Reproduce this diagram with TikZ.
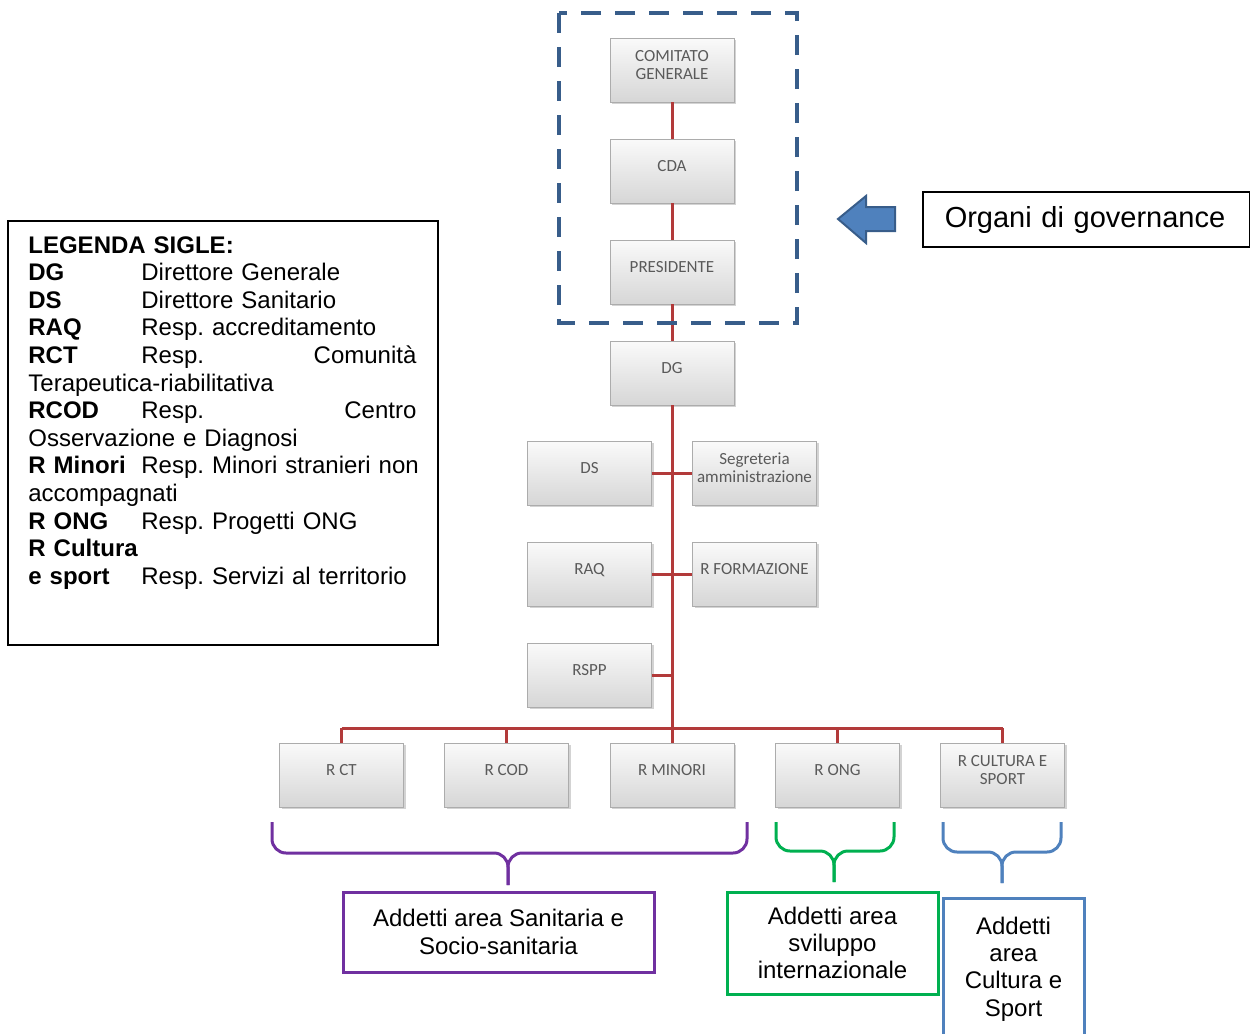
\documentclass[tikz,border=0pt]{standalone}
\usepackage{fontspec}
\setmainfont{Liberation Sans}
\newfontfamily\chartfont{Carlito}
\usetikzlibrary{shadows}
\frenchspacing
\definecolor{linkred}{RGB}{178,58,58}
\definecolor{govblue}{RGB}{56,93,138}
\definecolor{arrowblue}{RGB}{79,129,189}
\definecolor{areapurple}{RGB}{112,48,160}
\definecolor{areagreen}{RGB}{0,176,80}
\definecolor{boxtext}{RGB}{90,90,90}
\tikzset{
BOX/.style={draw=gray!65,top color=gray!4,bottom color=gray!32,minimum width=62pt,minimum height=32pt,inner sep=1pt,text depth=5pt,align=center,font=\chartfont\fontsize{8.5}{9}\selectfont,text=boxtext,drop shadow={shadow xshift=1pt,shadow yshift=-1pt,opacity=.35}},
LINK/.style={draw=linkred,line width=1.5pt},
BRACE/.style={draw=#1,line width=1.5pt,rounded corners=7pt},
AREA/.style={draw=#1,line width=1.5pt,align=center,inner sep=2pt,font=\fontsize{12}{13.6}\selectfont},
FRAME/.style={draw=black,line width=.75pt},
}
\newcommand{\sigla}[2]{\makebox[56.5pt][l]{\textbf{#1}}#2}

\begin{document}
\begin{tikzpicture}
[x=0.5pt, y=-0.5pt]
	\useasboundingbox (0,0) rectangle (1250,1034);
	\node[BOX] (cg) at (672,70) {COMITATO\\GENERALE};
	\node[BOX] (cda) at (672,171) {CDA};
	\node[BOX] (pres) at (672,272) {PRESIDENTE};
	\node[BOX] (dg) at (672,373) {DG};
	\node[BOX] (ds) at (589.5,473) {DS};
	\node[BOX] (segr) at (754.5,473) {Segreteria\\amministrazione};
	\node[BOX] (raq) at (589.5,574) {RAQ};
	\node[BOX] (rform) at (754.5,574) {R FORMAZIONE};
	\node[BOX] (rspp) at (589.5,675) {RSPP};
	\node[BOX] (rct) at (341.5,775) {R CT};
	\node[BOX] (rcod) at (506.5,775) {R COD};
	\node[BOX] (rmin) at (672,775) {R MINORI};
	\node[BOX] (rong) at (837.5,775) {R ONG};
	\node[BOX] (rcult) at (1002.5,775) {R CULTURA E\\SPORT};
	\coordinate (bus) at (672,728);
	\draw[LINK] (cg) -- (cda);
	\draw[LINK] (cda) -- (pres);
	\draw[LINK] (pres) -- (dg);
	\draw[LINK] (dg) -- (bus);
	\draw[LINK] (ds) -- (segr);
	\draw[LINK] (raq) -- (rform);
	\draw[LINK] (rspp.east) -- (rspp.east -| dg.south);
	\draw[LINK] (rct.north |- bus) -- (rcult.north |- bus);
	\foreach \n in {rct,rcod,rmin,rong,rcult}
	\draw[LINK] (\n.north) -- (\n.north |- bus);
	\draw[govblue, line width=2pt, dash pattern=on 10pt off 7pt] (559,13) rectangle (797,323);
	\filldraw[fill=arrowblue, draw=govblue, line width=1pt] (838,219) -- (866,196) -- (866,207) -- (895,207)
	-- (895,231) -- (866,231) -- (866,243) -- cycle;
	\node[FRAME, anchor=west, minimum width=163.5pt, minimum height=27.5pt, text width=141.5pt, inner xsep=11pt,
	align=left, font=\fontsize{14.5}{17}\selectfont] (gov) at (922,219.5) {Organi di governance};
	\draw[FRAME] (8,221) rectangle (438,645);
	\node[anchor=north west, inner sep=0pt, text width=194pt, align=left, font=\fontsize{12}{13.8}\selectfont] (legenda) at (28,236) {
	\textbf{LEGENDA SIGLE:}\\
	\sigla{DG}{Direttore Generale}\\
	\sigla{DS}{Direttore Sanitario}\\
	\sigla{RAQ}{Resp. accreditamento}\\
	\makebox[194pt][l]{\sigla{RCT}{Resp.\hfill Comunità}}\\
	Terapeutica-riabilitativa\\
	\makebox[194pt][l]{\sigla{RCOD}{Resp.\hfill Centro}}\\
	Osservazione e Diagnosi\\
	\makebox[194pt][l]{\sigla{R Minori}{Resp. Minori stranieri non}}\\
	accompagnati\\
	\sigla{R ONG}{Resp. Progetti ONG}\\
	\textbf{R Cultura}\\
	\sigla{e sport}{Resp. Servizi al territorio}};
	\draw[BRACE=areapurple] (272,822) -- (272,853) -- (508,853) -- (508,885);
	\draw[BRACE=areapurple] (747,822) -- (747,853) -- (508,853) -- (508,885);
	\draw[BRACE=areagreen] (776,822) -- (776,851) -- (834,851) -- (834,882);
	\draw[BRACE=areagreen] (894,822) -- (894,851) -- (834,851) -- (834,882);
	\draw[BRACE=arrowblue] (943,822) -- (943,852) -- (1002,852) -- (1002,883);
	\draw[BRACE=arrowblue] (1061,822) -- (1061,852) -- (1002,852) -- (1002,883);
	\node[AREA=areapurple, minimum width=155.5pt, minimum height=40pt] (sanit) at (498.5,932) {Addetti area Sanitaria e\\Socio-sanitaria};
	\node[AREA=areagreen, minimum width=105.5pt, minimum height=51pt] (svil) at (832.5,943) {Addetti area\\sviluppo\\internazionale};
	\node[AREA=arrowblue, minimum width=70.5pt, minimum height=71pt] (cult) at (1013.5,969) {Addetti\\area\\Cultura e\\Sport};
\end{tikzpicture}
\end{document}
